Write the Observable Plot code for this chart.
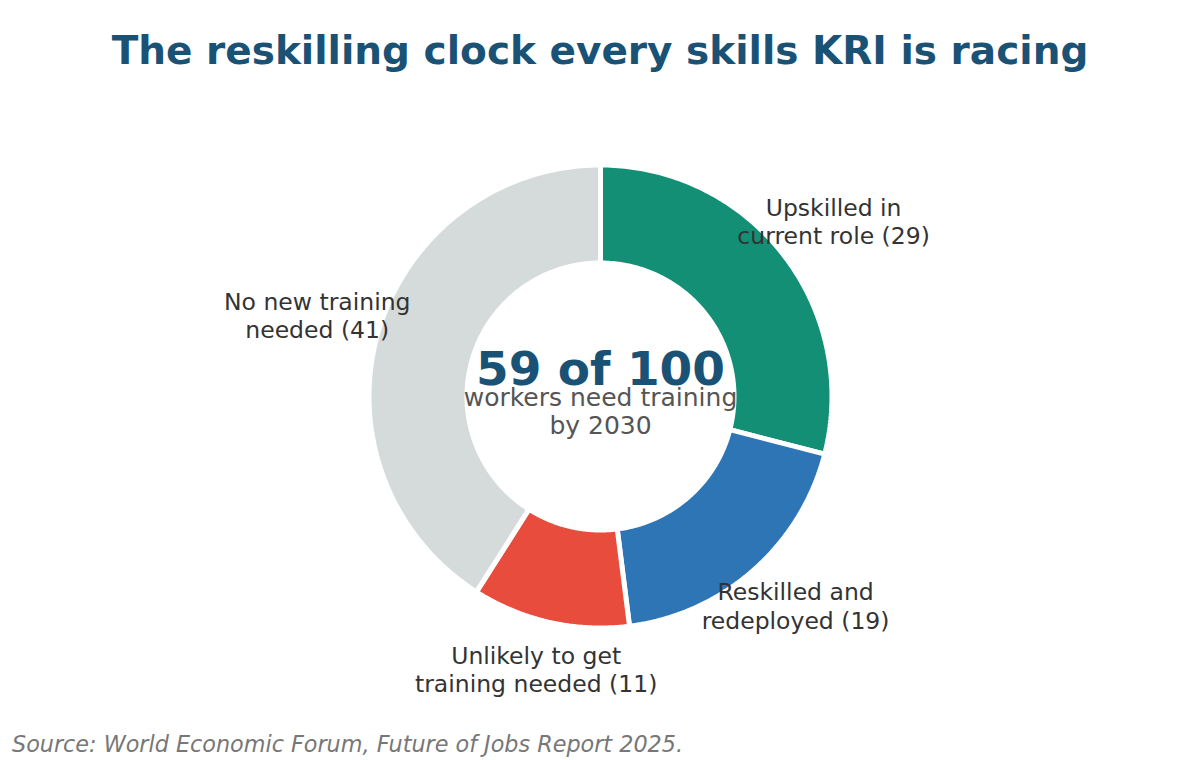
<!DOCTYPE html>
<html>
<head>
<meta charset="utf-8">
<script src="https://cdn.jsdelivr.net/npm/d3@7"></script>
<script src="https://cdn.jsdelivr.net/npm/@observablehq/plot@0.6"></script>
<style>
  html, body { margin: 0; padding: 0; background: #fff; }
  body { width: 1200px; height: 760px; position: relative; overflow: hidden; font-family: "DejaVu Sans", sans-serif; }
  #title { position: absolute; top: 0; left: 0; width: 1200px; text-align: center; font-weight: bold; font-size: 39px; color: #1a5276; line-height: 46px; padding-top: 28px; }
  #chart { position: absolute; top: 100px; left: 0; }
  #source { position: absolute; left: 12px; top: 731px; font-style: italic; font-size: 22.3px; color: #777; }
</style>
</head>
<body>
<div id="title">The reskilling clock every skills KRI is racing</div>
<div id="chart"></div>
<div id="source">Source: World Economic Forum, Future of Jobs Report 2025.</div>
<script>
const categories = ["Upskilled in current role", "Reskilled and redeployed", "Unlikely to get training needed", "No new training needed"];
const values = [29, 19, 11, 41];
const sliceLabels = ["Upskilled in\ncurrent role (29)", "Reskilled and\nredeployed (19)", "Unlikely to get\ntraining needed (11)", "No new training\nneeded (41)"];
const colors = ["#138f76", "#2e75b6", "#e74c3c", "#d5dbdb"];
const centerTitle = "59 of 100";
const centerSub = "workers need training\nby 2030";

const W = 1200, H = 610, CY = 296;
const R = 231.5, r0 = 133.5, RLx = 295, RLy = 282;

const total = d3.sum(values);
let acc = 0;
const slices = values.map((v, i) => {
  const a0 = acc / total * 2 * Math.PI;
  acc += v;
  const a1 = acc / total * 2 * Math.PI;
  return {category: categories[i], label: sliceLabels[i], value: v, a0, a1, mid: (a0 + a1) / 2};
});

const ringPts = [];
for (const s of slices) {
  const n = 120;
  const pts = [];
  for (let k = 0; k <= n; k++) {
    const a = s.a0 + (s.a1 - s.a0) * k / n;
    pts.push({category: s.category, x: R * Math.sin(a), y: R * Math.cos(a)});
  }
  for (let k = n; k >= 0; k--) {
    const a = s.a0 + (s.a1 - s.a0) * k / n;
    pts.push({category: s.category, x: r0 * Math.sin(a), y: r0 * Math.cos(a)});
  }
  pts.push(pts[0]);
  ringPts.push(...pts);
}

const labelPts = slices.map(s => ({label: s.label, x: RLx * Math.sin(s.mid), y: RLy * Math.cos(s.mid)}));

const chart = Plot.plot({
  width: W,
  height: H,
  margin: 0,
  style: {fontFamily: "DejaVu Sans, sans-serif", background: "#fff"},
  x: {domain: [-600, 600], axis: null},
  y: {domain: [-(H - CY), CY], axis: null},
  color: {domain: categories, range: colors},
  marks: [
    Plot.line(ringPts, {x: "x", y: "y", z: "category", fill: "category", stroke: "#fff", strokeWidth: 5, curve: "linear", strokeLinejoin: "miter"}),
    Plot.text(labelPts, {x: "x", y: "y", text: "label", fontSize: 23.5, fill: "#333", lineHeight: 1.2, textAnchor: "middle", dy: -2.5}),
    Plot.text([{x: 0, y: 27}], {x: "x", y: "y", text: () => centerTitle, fontSize: 47, fontWeight: "bold", fill: "#1a5276"}),
    Plot.text([{x: 0, y: -15}], {x: "x", y: "y", text: () => centerSub, fontSize: 25, fill: "#555", lineHeight: 1.12})
  ]
});
document.getElementById("chart").appendChild(chart);
</script>
</body>
</html>
